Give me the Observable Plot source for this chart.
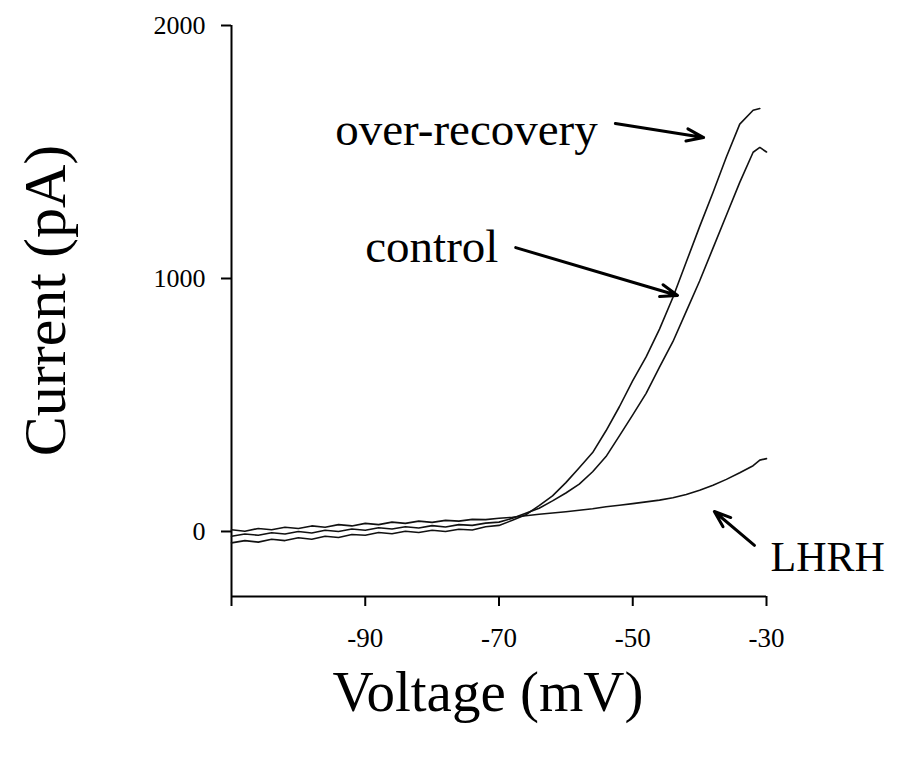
<!DOCTYPE html>
<html><head><meta charset="utf-8">
<script src="https://cdn.jsdelivr.net/npm/d3@7"></script>
<script src="https://cdn.jsdelivr.net/npm/@observablehq/plot@0.6"></script>
<style>body{margin:0;background:#fff;} svg{display:block}</style>
</head><body><div id="chart"></div>
<script>
// Voltage (mV) sample points
const voltages = [-110,-108,-106,-104,-102,-100,-98,-96,-94,-92,-90,-88,-86,-84,-82,-80,-78,-76,-74,-72,-70,-68,-66,-64,-62,-60,-58,-56,-54,-52,-50,-48,-46,-44,-42,-40,-38,-36,-34,-32,-31,-30];
// Current (pA) per series
const overRecovery = [-45,-36,-42,-31,-36,-25,-31,-19,-24,-12,-15,-4,-9,1,-4,5,0,9,6,19,24,44,66,102,141,193,252,312,398,493,596,690,800,925,1065,1205,1340,1480,1610,1665,1672,null];
const control = [-19,-10,-15,-5,-10,0,-6,5,0,10,5,15,10,19,14,23,18,27,24,33,37,52,72,92,121,152,187,236,296,378,461,546,650,750,870,990,1120,1250,1380,1499,1518,1500];
const lhrh = [7,1,12,7,17,12,22,17,27,22,32,27,37,32,41,36,44,41,48,47,52,56,62,68,73,78,84,90,98,104,110,117,124,133,146,163,183,206,232,260,282,288];
// Axis ticks
const xTicks = [-110,-90,-70,-50,-30];
const xTickLabels = ["","-90","-70","-50","-30"];
const yTicks = [0,1000,2000];
const yTickLabels = ["0","1000","2000"];
const seriesNames = ["over-recovery","control","LHRH"];

const series = [overRecovery, control, lhrh];
const rows = [];
series.forEach((vals, s) => voltages.forEach((v, i) => rows.push({series: seriesNames[s], V: v, I: vals[i]})));

const font = "Liberation Serif, Times New Roman, serif";
const chart = Plot.plot({
  width: 904, height: 761,
  marginLeft: 231, marginRight: 138, marginTop: 25, marginBottom: 165,
  style: {fontFamily: font, background: "#fff", color: "#000"},
  x: {domain: [-110, -30]},
  y: {domain: [-257, 2000]},
  marks: [
    Plot.ruleX([-110], {y1: -257, y2: 2000, strokeWidth: 2}),
    Plot.ruleY([-257], {x1: -110, x2: -30, strokeWidth: 2}),
    Plot.axisX({ticks: xTicks, tickSize: 10, strokeWidth: 2, tickFormat: () => "", label: null}),
    Plot.axisY({ticks: yTicks, tickSize: 10, strokeWidth: 2, tickFormat: () => "", label: null}),
    Plot.text(xTicks, {x: d => d, y: -257, text: (d, i) => xTickLabels[i], dy: 42, fontSize: 27}),
    Plot.text(yTicks, {x: -110, y: d => d, text: (d, i) => yTickLabels[i], textAnchor: "end", dx: -26, fontSize: 26}),
    Plot.line(rows, {x: "V", y: "I", z: "series", stroke: "#111", strokeWidth: 1.6, defined: d => d.I != null}),
    // annotations
    Plot.text(["over-recovery"], {x: -94.5, y: 1589, textAnchor: "start", fontSize: 47}),
    Plot.arrow([0], {x1: -52.6, y1: 1613, x2: -39.4, y2: 1557, strokeWidth: 3, headLength: 9, headAngle: 40}),
    Plot.text(["control"], {x: -90, y: 1125, textAnchor: "start", fontSize: 47}),
    Plot.arrow([0], {x1: -67.5, y1: 1122, x2: -43.3, y2: 933, strokeWidth: 3, headLength: 9, headAngle: 40}),
    Plot.text(["LHRH"], {x: -29.4, y: -103, textAnchor: "start", fontSize: 42}),
    Plot.arrow([0], {x1: -31.8, y1: -55, x2: -37.8, y2: 79, strokeWidth: 3, headLength: 9, headAngle: 40}),
    // axis titles
    Plot.text(["Current (pA)"], {x: -110, y: 913, dx: -186, rotate: -90, textAnchor: "middle", fontSize: 60}),
    Plot.text(["Voltage (mV)"], {frameAnchor: "bottom", dx: -11, dy: 114, fontSize: 57})
  ]
});
document.getElementById("chart").append(chart);
</script>
</body></html>
